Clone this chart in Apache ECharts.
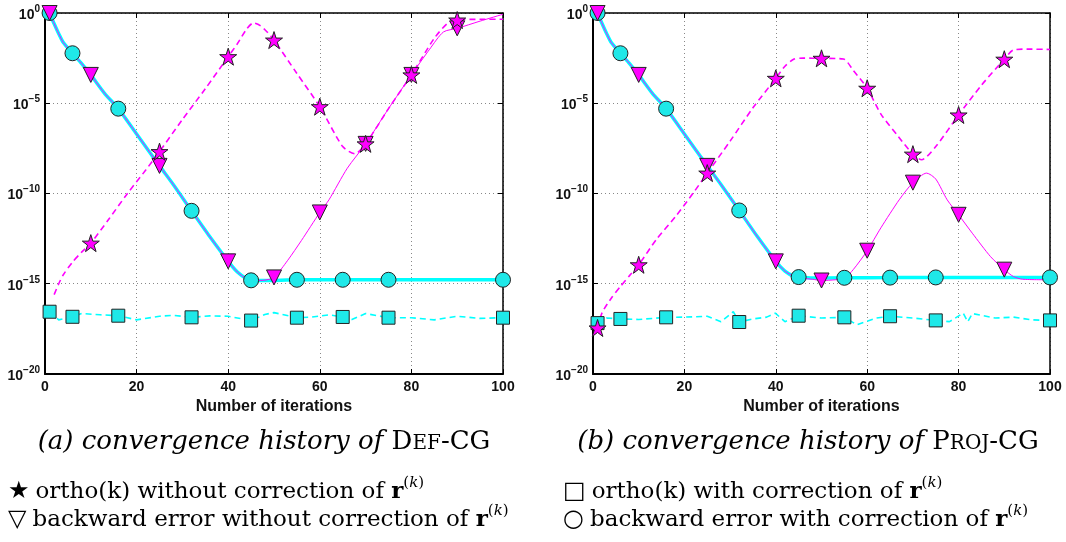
<!DOCTYPE html>
<html>
<head>
<meta charset="utf-8">
<script src="https://cdn.jsdelivr.net/npm/echarts@6/dist/echarts.min.js"></script>
<style>
  html, body { margin: 0; padding: 0; background: #fff; }
  #chart { width: 1066px; height: 542px; }
</style>
</head>
<body>
<div id="chart"></div>
<script>
// Axis ticks
const iterTicks = [0, 20, 40, 60, 80, 100];
const logTicks = [-20, -15, -10, -5, 0];

// ---- Def-CG: [iteration, log10(value)] ----
const defOrthoNoCorr = [
  [2, -15.6], [3, -15.0], [4, -14.5], [6, -13.8], [8, -13.25], [10, -12.75], [14, -11.4],
  [18, -10.0], [22, -8.7], [25, -7.68], [30, -5.9], [35, -4.2], [40, -2.42], [42, -1.7],
  [44, -0.9], [45.5, -0.55], [47, -0.7], [48.5, -1.05], [50, -1.5], [55, -3.35], [60, -5.19],
  [65, -7.4], [67.7, -7.8], [70, -7.25], [75, -5.3], [80, -3.43], [85, -1.4], [88, -0.55],
  [90, -0.39], [95, -0.35], [100, -0.35]
];
const defBackNoCorr = [
  [1, 0], [2, -0.6], [3, -1.15], [4, -1.64], [6, -2.23], [8, -2.8], [10, -3.43], [13, -4.45],
  [16, -5.3], [20, -6.7], [25, -8.47], [28, -9.5], [32, -10.96], [36, -12.4], [40, -13.76],
  [42, -14.35], [44, -14.72], [46, -14.82], [48, -14.8], [50, -14.65], [53, -13.7], [56, -12.6],
  [60, -11.05], [62, -10.35], [66, -8.6], [70, -7.25], [75, -5.3], [80, -3.43], [84, -2.0],
  [87, -1.05], [90, -0.85], [95, -0.45], [100, -0.07]
];
const defOrthoCorr = [
  [1, -16.55], [3, -17.0], [6, -16.83], [8, -16.65], [12, -16.72], [16, -16.77], [20, -17.0],
  [25, -16.8], [28, -16.75], [32, -16.86], [36, -16.78], [40, -16.8], [45, -17.04], [48, -16.7],
  [50, -16.6], [55, -16.88], [58, -16.85], [62, -16.72], [65, -16.84], [67, -16.98], [70, -16.65],
  [75, -16.88], [80, -16.88], [85, -17.0], [90, -16.8], [95, -16.92], [100, -16.88]
];
const defBackCorr = [
  [1, 0], [2, -0.6], [3, -1.15], [4, -1.64], [6, -2.23], [8, -2.8], [10, -3.43], [13, -4.45],
  [16, -5.3], [20, -6.7], [25, -8.47], [28, -9.5], [32, -10.96], [36, -12.4], [40, -13.76],
  [42, -14.35], [44, -14.72], [45, -14.81], [48, -14.82], [55, -14.78], [65, -14.78],
  [75, -14.78], [100, -14.78]
];

// ---- Proj-CG: [iteration, log10(value)] ----
const projOrthoNoCorr = [
  [1, -17.45], [2, -16.6], [4, -15.8], [6, -15.15], [8, -14.55], [10, -13.95], [14, -12.5],
  [18, -11.3], [22, -9.95], [25, -8.87], [30, -7.1], [35, -5.25], [40, -3.62], [42, -2.95],
  [44, -2.55], [46, -2.5], [50, -2.51], [54.8, -2.55], [57, -3.2], [60, -4.17], [63, -5.6],
  [66.8, -6.84], [70, -7.82], [71.9, -8.13], [75, -7.4], [80, -5.65], [85, -4.0], [90, -2.56],
  [92, -2.05], [95, -2.0], [100, -2.02]
];
const projBackNoCorr = [
  [1, 0], [2, -0.6], [3, -1.15], [4, -1.64], [6, -2.23], [8, -2.8], [10, -3.43], [13, -4.45],
  [16, -5.3], [20, -6.7], [25, -8.47], [28, -9.5], [32, -10.94], [36, -12.4], [40, -13.76],
  [42, -14.3], [44, -14.6], [46, -14.7], [48, -14.75], [50, -14.82], [53, -14.78], [55, -14.7],
  [57, -14.2], [60, -13.17], [63, -11.9], [67, -10.35], [70, -9.4], [73, -8.87], [75, -9.2],
  [77.5, -10.35], [80, -11.18], [83, -12.2], [87, -13.5], [90, -14.22], [92, -14.6],
  [94, -14.75], [100, -14.78]
];
const projOrthoCorr = [
  [1, -17.18], [3, -16.9], [6, -16.95], [10, -16.98], [16, -16.86], [20, -16.85], [25, -16.8],
  [28, -17.1], [30.7, -16.55], [32, -17.12], [35, -16.95], [38, -16.85], [39.9, -16.63],
  [42, -17.1], [45, -16.77], [50, -16.9], [55, -16.86], [57.7, -17.27], [62, -16.9], [65, -16.8],
  [70, -16.9], [75, -17.03], [78, -17.1], [81, -16.63], [82, -17.1], [83, -16.65], [88, -16.9],
  [92, -16.85], [96, -17.0], [100, -17.03]
];
const projBackCorr = [
  [1, 0], [2, -0.6], [3, -1.15], [4, -1.64], [6, -2.23], [8, -2.8], [10, -3.43], [13, -4.45],
  [16, -5.3], [20, -6.7], [25, -8.47], [28, -9.5], [32, -10.94], [36, -12.4], [40, -13.76],
  [42, -14.3], [44, -14.6], [45, -14.63], [48, -14.68], [55, -14.67], [65, -14.66],
  [75, -14.65], [100, -14.65]
];

// Iterations carrying a marker
const starItersDef = [10, 25, 40, 50, 60, 70, 80, 90];
const starItersProj = [1, 10, 25, 40, 50, 60, 70, 80, 90];
const triIters = [1, 10, 25, 40, 50, 60, 70, 80, 90];
const circleIters = [1, 6, 16, 32, 45, 55, 65, 75, 100];
const squareIters = [1, 6, 16, 32, 45, 55, 65, 75, 100];

const MAGENTA = '#ff00ff';
const CYAN = '#00ffff';
const CYAN_FILL = '#1fe8e8';
const STAR = 'path://M50,0 L61.8,35.5 L99,35.5 L69,57.5 L80.5,93 L50,71 L19.5,93 L31,57.5 L1,35.5 L38.2,35.5 Z';

function toData(pairs) {
  return pairs.map(p => [p[0], Math.pow(10, p[1])]);
}
function pick(pairs, iters) {
  return iters.map(it => {
    const p = pairs.find(q => q[0] === it);
    return [it, Math.pow(10, p[1])];
  });
}

function lineSeries(g, pairs, color, width, dashed, z) {
  return {
    type: 'line', xAxisIndex: g * 2, yAxisIndex: g * 2,
    data: toData(pairs), symbol: 'none', smooth: dashed === 'jag' ? false : 0.25,
    lineStyle: { color: color, width: width, type: dashed ? [6, 4] : 'solid' },
    z: z, silent: true, animation: false
  };
}
function markerSeries(g, pairs, iters, symbol, size, fill, rotate, z) {
  return {
    type: 'scatter', xAxisIndex: g * 2, yAxisIndex: g * 2,
    data: pick(pairs, iters), symbol: symbol, symbolSize: size, symbolRotate: rotate || 0,
    itemStyle: { color: fill, borderColor: '#222', borderWidth: 1, opacity: 1 },
    z: z, silent: true, animation: false
  };
}

const sans = 'Liberation Sans, Arial, sans-serif';
const supLabel = {
  b: { fontSize: 14, fontWeight: 'bold', color: '#111', fontFamily: sans, lineHeight: 18, verticalAlign: 'bottom' },
  s: { fontSize: 10, fontWeight: 'bold', color: '#111', fontFamily: sans, lineHeight: 11, verticalAlign: 'top' }
};

function axesFor(g, left, right) {
  const grid = { left: left, right: right, top: 13, bottom: 168, show: false };
  const xMain = {
    gridIndex: g, type: 'value', min: iterTicks[0], max: iterTicks[iterTicks.length - 1],
    interval: iterTicks[1] - iterTicks[0], position: 'bottom',
    name: 'Number of iterations', nameLocation: 'middle', nameGap: 25,
    nameTextStyle: { fontSize: 16, fontWeight: 'bold', color: '#111', fontFamily: sans },
    axisLine: { show: true, onZero: false, lineStyle: { color: '#000', width: 2 } },
    axisTick: { show: true, inside: true, length: 5, lineStyle: { color: '#000' } },
    axisLabel: { fontSize: 14, fontWeight: 'bold', color: '#111', margin: 6, fontFamily: sans },
    splitLine: { show: true, lineStyle: { color: '#888', type: [1, 3], width: 1 } }
  };
  const xTop = {
    gridIndex: g, type: 'value', min: xMain.min, max: xMain.max, interval: xMain.interval,
    position: 'top',
    axisLine: { show: true, onZero: false, lineStyle: { color: '#000', width: 1.5 } },
    axisTick: { show: true, inside: true, length: 5, lineStyle: { color: '#000' } },
    axisLabel: { show: false }, splitLine: { show: false }
  };
  const yMain = {
    gridIndex: g, type: 'log', logBase: 10,
    min: Math.pow(10, logTicks[0]), max: Math.pow(10, logTicks[logTicks.length - 1]),
    interval: logTicks[1] - logTicks[0], position: 'left',
    axisLine: { show: true, onZero: false, lineStyle: { color: '#000', width: 2 } },
    axisTick: { show: true, inside: true, length: 5, lineStyle: { color: '#000' } },
    axisLabel: {
      margin: 5, showMinLabel: true, showMaxLabel: true, hideOverlap: false,
      formatter: v => {
        const e = Math.round(Math.log10(v));
        return '{b|10}{s|' + (e < 0 ? '\u2212' + (-e) : e) + '}';
      },
      rich: supLabel
    },
    splitLine: { show: true, lineStyle: { color: '#888', type: [1, 3], width: 1 } }
  };
  const yRight = {
    gridIndex: g, type: 'log', logBase: 10, min: yMain.min, max: yMain.max,
    interval: yMain.interval, position: 'right',
    axisLine: { show: true, onZero: false, lineStyle: { color: '#000', width: 1.5 } },
    axisTick: { show: true, inside: true, length: 5, lineStyle: { color: '#000' } },
    axisLabel: { show: false }, splitLine: { show: false }
  };
  return { grid, x: [xMain, xTop], y: [yMain, yRight] };
}

const A = axesFor(0, 45, 563);
const B = axesFor(1, 593, 16);

function panelSeries(g, orthoNo, backNo, orthoC, backC, starIters) {
  return [
    lineSeries(g, orthoC, CYAN, 1.6, 'jag', 2),
    lineSeries(g, backC, CYAN, 3.5, false, 3),
    lineSeries(g, orthoNo, MAGENTA, 1.6, true, 4),
    lineSeries(g, backNo, MAGENTA, 1, false, 5),
    markerSeries(g, orthoC, squareIters, 'rect', 13, CYAN_FILL, 0, 10),
    markerSeries(g, backC, circleIters, 'circle', 15, CYAN_FILL, 0, 11),
    markerSeries(g, backNo, triIters, 'triangle', 15, MAGENTA, 180, 12),
    markerSeries(g, orthoNo, starIters, STAR, 17, MAGENTA, 0, 13)
  ];
}

const serif = 'DejaVu Serif, Liberation Serif, serif';
const capRich = {
  i: { fontSize: 26, fontStyle: 'italic', fontFamily: serif, color: '#111', lineHeight: 31, verticalAlign: 'bottom' },
  c: { fontSize: 26, fontFamily: serif, color: '#111', lineHeight: 31, verticalAlign: 'bottom' },
  sc: { fontSize: 20, fontFamily: serif, color: '#111', lineHeight: 29, verticalAlign: 'bottom', padding: [0, 0, 2, 0] }
};
const legRich = {
  t: { fontSize: 23, fontFamily: serif, color: '#111', lineHeight: 28, verticalAlign: 'bottom' },
  sym: { fontSize: 24, fontFamily: 'DejaVu Sans', color: '#111', lineHeight: 28, verticalAlign: 'bottom', padding: [0, 6, 0, 0] },
  r: { fontSize: 23, fontWeight: 'bold', fontFamily: serif, color: '#111', lineHeight: 28, verticalAlign: 'bottom' },
  p: { fontSize: 15, fontFamily: serif, color: '#111', lineHeight: 18, verticalAlign: 'top' },
  k: { fontSize: 15, fontStyle: 'italic', fontFamily: serif, color: '#111', lineHeight: 18, verticalAlign: 'top' }
};
const rk = '{r|r}{p|(}{k|k}{p|)}';

function txt(x, y, text, rich, align) {
  return {
    type: 'text', x: x, y: y, silent: true,
    style: { text: text, rich: rich, align: align || 'left', verticalAlign: 'middle' }
  };
}

const option = {
  backgroundColor: '#fff',
  animation: false,
  grid: [A.grid, B.grid],
  xAxis: [...A.x, ...B.x],
  yAxis: [...A.y, ...B.y],
  series: [
    ...panelSeries(0, defOrthoNoCorr, defBackNoCorr, defOrthoCorr, defBackCorr, starItersDef),
    ...panelSeries(1, projOrthoNoCorr, projBackNoCorr, projOrthoCorr, projBackCorr, starItersProj)
  ],
  graphic: [
    txt(264, 440, '{i|(a) convergence history of }{c|D}{sc|EF}{c|-CG}', capRich, 'center'),
    txt(808, 440, '{i|(b) convergence history of }{c|P}{sc|ROJ}{c|-CG}', capRich, 'center'),
    txt(8, 490, '{sym|\u2605}{t|ortho(k) without correction of }' + rk, legRich),
    txt(8, 518, '{sym|\u25BD}{t|backward error without correction of }' + rk, legRich),
    txt(563, 490, '{sym|\u25A1}{t|ortho(k) with correction of }' + rk, legRich),
    txt(563, 518, '{sym|\u25CB}{t|backward error with correction of }' + rk, legRich)
  ]
};

const chart = echarts.init(document.getElementById('chart'), null, { renderer: 'canvas' });
chart.setOption(option);
</script>
</body>
</html>
